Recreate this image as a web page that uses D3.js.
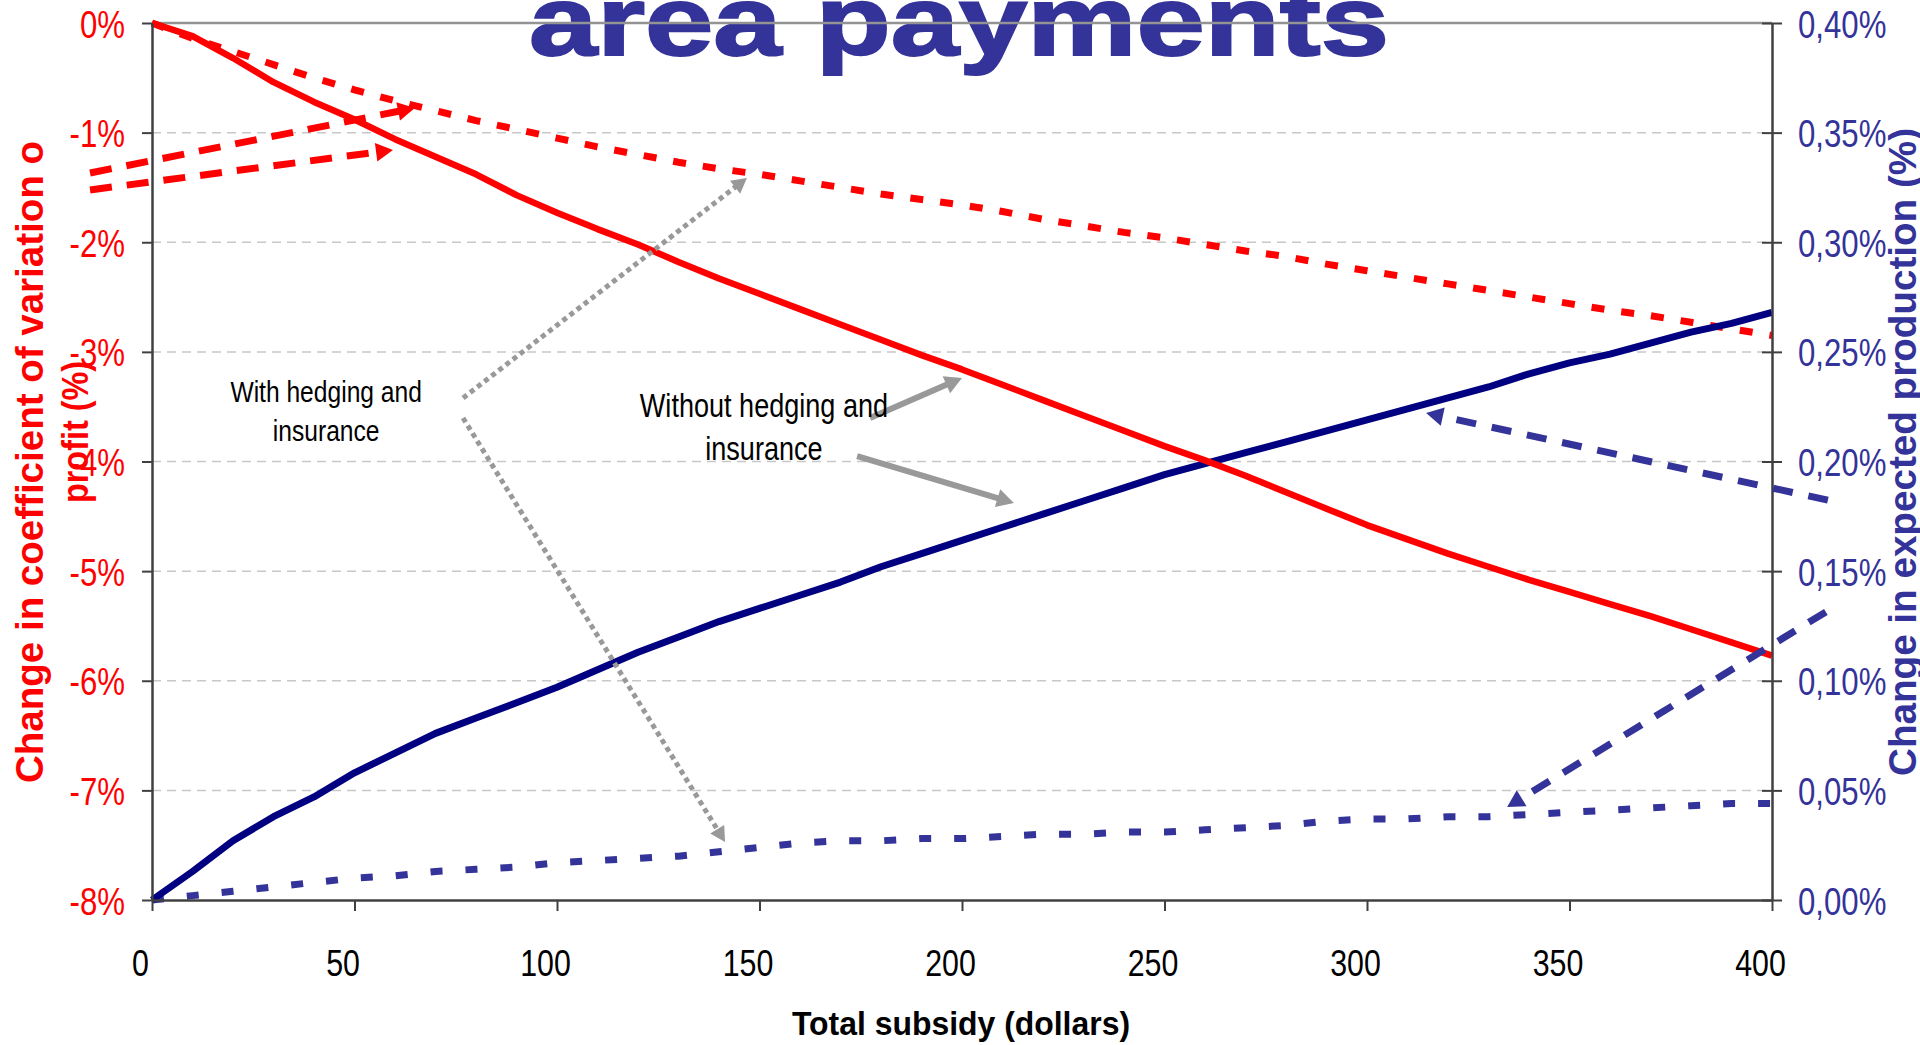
<!DOCTYPE html>
<html>
<head>
<meta charset="utf-8">
<script src="https://cdn.jsdelivr.net/npm/d3@7"></script>
<style>
  body { margin: 0; background: #fff; overflow: hidden; }
</style>
</head>
<body>
<div id="chart"></div>
<script>
// data ---------------------------------------------------------------------
var subsidy = [0,10,20,30,40,50,60,70,80,90,100,110,120,130,140,150,160,170,180,190,200,
               210,220,230,240,250,260,270,280,290,300,310,320,330,340,350,360,370,380,390,400];

// change in coefficient of variation of profit (%), left axis
var cvWithout = [0,-0.12,-0.32,-0.54,-0.72,-0.88,-1.06,-1.22,-1.38,-1.57,-1.73,-1.88,-2.02,-2.18,-2.33,
                 -2.47,-2.61,-2.75,-2.89,-3.03,-3.16,-3.30,-3.44,-3.58,-3.72,-3.86,-3.99,-4.13,-4.28,
                 -4.43,-4.58,-4.71,-4.84,-4.96,-5.08,-5.19,-5.30,-5.41,-5.53,-5.65,-5.77];
var cvWith = [0,-0.14,-0.26,-0.38,-0.50,-0.61,-0.71,-0.80,-0.89,-0.97,-1.05,-1.13,-1.20,-1.27,-1.33,
              -1.38,-1.44,-1.50,-1.56,-1.61,-1.66,-1.72,-1.79,-1.85,-1.91,-1.96,-2.02,-2.08,-2.13,
              -2.20,-2.26,-2.32,-2.38,-2.44,-2.50,-2.56,-2.62,-2.67,-2.73,-2.79,-2.85];

// change in expected production (%), right axis
var prodWithout = [0,0.013,0.027,0.038,0.047,0.058,0.067,0.076,0.083,0.090,0.097,0.105,0.113,0.120,0.127,
                   0.133,0.139,0.145,0.152,0.158,0.164,0.170,0.176,0.182,0.188,0.194,0.199,0.204,0.209,
                   0.214,0.219,0.224,0.229,0.234,0.240,0.245,0.249,0.254,0.259,0.263,0.268];
var prodWith = [0,0.002,0.004,0.006,0.008,0.010,0.011,0.013,0.014,0.015,0.017,0.018,0.019,0.020,0.022,
                0.024,0.026,0.027,0.027,0.028,0.028,0.029,0.030,0.030,0.031,0.031,0.032,0.033,0.034,
                0.036,0.037,0.037,0.038,0.038,0.039,0.040,0.041,0.042,0.043,0.044,0.044];

var xTicks = [0,50,100,150,200,250,300,350,400];
var leftTicks = [0,-1,-2,-3,-4,-5,-6,-7,-8];
var rightTicks = [0,0.05,0.10,0.15,0.20,0.25,0.30,0.35,0.40];

var titleText = "area payments";
var xTitle = "Total subsidy (dollars)";
var leftTitle = ["Change in coefficient of variation o", "profit (%)"];
var rightTitle = "Change in expected production (%)";
//----------------------------------------------------------------------------

var margin = {top: 23, right: 148, bottom: 145, left: 152},
    width = 1920 - margin.left - margin.right,
    height = 1045 - margin.top - margin.bottom;

var font = "'Liberation Sans',Arial,sans-serif";
var red = "#ff0000", navy = "#000080", blue = "#333399", grey = "#999999";

// no narrow face installed: squeeze the normal one
function condense(sel, k) {
  sel.each(function() {
    var l = this.getComputedTextLength();
    d3.select(this).attr("textLength", l * k).attr("lengthAdjust", "spacingAndGlyphs");
  });
}

var root = d3.select("#chart")
  .append("svg")
    .attr("width", 1920)
    .attr("height", 1045);

var svg = root.append("g")
    .attr("transform", "translate(" + margin.left + "," + margin.top + ")");

var x = d3.scaleLinear().domain([0, 400]).range([0, width]);
var yL = d3.scaleLinear().domain([-8, 0]).range([height, 0]);
var yR = d3.scaleLinear().domain([0, 0.4]).range([height, 0]);

// title, partly above the page
svg.append("text")
  .attr("x", 529 - margin.left)
  .attr("y", 55 - margin.top)
  .attr("font-family", font)
  .attr("font-weight", "bold")
  .attr("font-size", 98)
  .attr("fill", blue)
  .attr("stroke", blue).attr("stroke-width", 2)
  .attr("textLength", 860)
  .attr("lengthAdjust", "spacingAndGlyphs")
  .text(titleText);

// gridlines
svg.selectAll(".grid")
  .data(leftTicks.filter(function(d) { return d < 0 && d > -8; }))
  .enter().append("line")
    .attr("x1", 0).attr("x2", width)
    .attr("y1", function(d) { return yL(d); })
    .attr("y2", function(d) { return yL(d); })
    .attr("stroke", "#c8c8c8")
    .attr("stroke-width", 1.5)
    .attr("stroke-dasharray", "9,6");

svg.append("line")
  .attr("x1", 0).attr("x2", width)
  .attr("y1", yL(0)).attr("y2", yL(0))
  .attr("stroke", "#939393")
  .attr("stroke-width", 2.5);

// series
var lineL = d3.line()
  .x(function(d, i) { return x(subsidy[i]); })
  .y(function(d) { return yL(d); });
var lineR = d3.line()
  .x(function(d, i) { return x(subsidy[i]); })
  .y(function(d) { return yR(d); });

svg.append("path").datum(prodWith)
  .attr("d", lineR).attr("fill", "none")
  .attr("stroke", blue).attr("stroke-width", 7)
  .attr("stroke-dasharray", "12,23");

svg.append("path").datum(cvWith)
  .attr("d", lineL).attr("fill", "none")
  .attr("stroke", red).attr("stroke-width", 7)
  .attr("stroke-dasharray", "13,17");

svg.append("path").datum(prodWithout)
  .attr("d", lineR).attr("fill", "none")
  .attr("stroke", navy).attr("stroke-width", 7)
  .attr("stroke-linejoin", "round");

svg.append("path").datum(cvWithout)
  .attr("d", lineL).attr("fill", "none")
  .attr("stroke", red).attr("stroke-width", 6.5)
  .attr("stroke-linejoin", "round");

// axes
var xAxis = svg.append("g")
  .attr("transform", "translate(0," + height + ")")
  .call(d3.axisBottom(x).tickValues(xTicks).tickSize(11).tickSizeOuter(0));
xAxis.selectAll("text")
  .attr("y", 76).attr("dy", 0).attr("dx", -12)
  .attr("font-family", font).attr("font-size", 37).attr("fill", "#000")
  .call(condense, 0.82);

var leftAxis = svg.append("g")
  .call(d3.axisLeft(yL).tickValues(leftTicks).tickSize(10).tickPadding(17).tickSizeOuter(0)
    .tickFormat(function(d) { return d + "%"; }));
leftAxis.selectAll("text")
  .attr("dy", "0.37em")
  .attr("font-family", font).attr("font-size", 38).attr("fill", red)
  .call(condense, 0.82);

var rightAxis = svg.append("g")
  .attr("transform", "translate(" + width + ",0)")
  .call(d3.axisRight(yR).tickValues(rightTicks).tickSize(10).tickPadding(16).tickSizeOuter(0)
    .tickFormat(function(d) { return d.toFixed(2).replace(".", ",") + "%"; }));
rightAxis.selectAll(".tick line").attr("x1", -10);
rightAxis.selectAll("text")
  .attr("dy", "0.37em")
  .attr("font-family", font).attr("font-size", 38).attr("fill", blue)
  .call(condense, 0.82);

[xAxis, leftAxis, rightAxis].forEach(function(a) {
  a.select(".domain").attr("stroke", "#404040").attr("stroke-width", 2.5);
  a.selectAll(".tick line").attr("stroke", "#404040").attr("stroke-width", 2);
});

// axis titles
root.append("text")
  .attr("x", 961).attr("y", 1035)
  .attr("text-anchor", "middle")
  .attr("font-family", font).attr("font-weight", "bold").attr("font-size", 34)
  .attr("fill", "#000")
  .attr("textLength", 338).attr("lengthAdjust", "spacingAndGlyphs")
  .text(xTitle);

root.append("text")
  .attr("transform", "translate(43,462) rotate(-90)")
  .attr("text-anchor", "middle")
  .attr("font-family", font).attr("font-weight", "bold").attr("font-size", 39)
  .attr("fill", red)
  .attr("textLength", 642).attr("lengthAdjust", "spacingAndGlyphs")
  .text(leftTitle[0]);
root.append("text")
  .attr("transform", "translate(88,432) rotate(-90)")
  .attr("text-anchor", "middle")
  .attr("font-family", font).attr("font-weight", "bold").attr("font-size", 37)
  .attr("fill", red)
  .attr("textLength", 142).attr("lengthAdjust", "spacingAndGlyphs")
  .text(leftTitle[1]);

root.append("text")
  .attr("transform", "translate(1916,452) rotate(-90)")
  .attr("text-anchor", "middle")
  .attr("font-family", font).attr("font-weight", "bold").attr("font-size", 39)
  .attr("fill", blue)
  .attr("textLength", 648).attr("lengthAdjust", "spacingAndGlyphs")
  .text(rightTitle);

// annotations (data units: subsidy, left-axis %)
function arrow(x1, y1, x2, y2, color, w, dash, head) {
  var ax = x(x1), ay = y1, bx = x(x2), by = y2;
  var dx = bx - ax, dy = by - ay, len = Math.sqrt(dx * dx + dy * dy);
  var ux = dx / len, uy = dy / len;
  var ex = bx - ux * head * 0.9, ey = by - uy * head * 0.9;
  svg.append("line")
    .attr("x1", ax).attr("y1", ay).attr("x2", ex).attr("y2", ey)
    .attr("stroke", color).attr("stroke-width", w)
    .attr("stroke-dasharray", dash);
  var px = -uy, py = ux, hw = head * 0.55;
  svg.append("path")
    .attr("d", "M" + bx + "," + by +
               "L" + (bx - ux * head + px * hw) + "," + (by - uy * head + py * hw) +
               "L" + (bx - ux * head - px * hw) + "," + (by - uy * head - py * hw) + "Z")
    .attr("fill", color);
}

// red dashed pointers from the left axis
arrow(-15.3, yL(-1.368), 64.9, yL(-0.775), red, 7, "22,15", 17);
arrow(-15.3, yL(-1.523), 59.5, yL(-1.158), red, 7, "22,15", 17);
// blue dashed pointers from the right axis
arrow(413.8, yR(0.1824), 314.6, yR(0.2221), blue, 7, "20,16", 17);
arrow(413.3, yR(0.1314), 334.6, yR(0.0424), blue, 7, "20,16", 17);
// grey dotted: with hedging and insurance
arrow(76.8, yL(-3.421), 146.9, yL(-1.414), grey, 5, "5,4", 15);
arrow(76.8, yL(-3.603), 141.5, yL(-7.471), grey, 5, "5,4", 15);
// grey solid: without hedging and insurance
arrow(177.3, yL(-3.603), 200.0, yL(-3.238), grey, 6, null, 17);
arrow(174.1, yL(-3.950), 212.8, yL(-4.379), grey, 6, null, 17);

var notes = [
  {x: 43, y: -3.457, size: 30, t: "With hedging and"},
  {x: 43, y: -3.813, size: 30, t: "insurance"},
  {x: 151.1, y: -3.594, size: 33, t: "Without hedging and"},
  {x: 151.1, y: -3.986, size: 33, t: "insurance"}
];
svg.selectAll(".note")
  .data(notes)
  .enter().append("text")
    .attr("x", function(d) { return x(d.x); })
    .attr("y", function(d) { return yL(d.y); })
    .attr("text-anchor", "middle")
    .attr("font-family", font)
    .attr("font-size", function(d) { return d.size; })
    .attr("fill", "#000")
    .text(function(d) { return d.t; })
    .call(condense, 0.82);
</script>
</body>
</html>
